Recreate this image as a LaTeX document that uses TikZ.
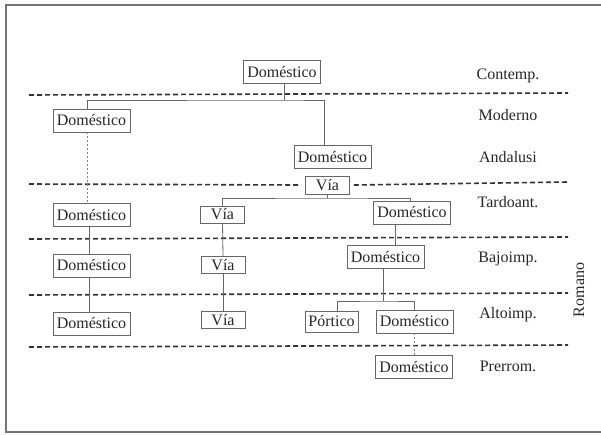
\documentclass[tikz,border=0pt]{standalone}
\usepackage{fontspec}
\setmainfont{Liberation Serif}
\begin{document}
\begin{tikzpicture}[x=1pt,y=-1pt,
  font=\fontsize{16}{18}\selectfont,
  txt/.style={text=black!85},
  box/.style={draw=black!60, line width=0.9pt, fill=white, inner sep=0pt, text=black!85},
  dom/.style={box, minimum width=77, minimum height=23},
  via/.style={box, minimum width=44, minimum height=17},
  port/.style={box, minimum width=53, minimum height=21},
  era/.style={dash pattern=on 5pt off 3pt, line width=1.6pt, draw=black!80},
  conn/.style={draw=black!60, line width=0.8pt},
  dconn/.style={draw=black!50, line width=0.7pt, dash pattern=on 2pt off 2pt}]
\useasboundingbox (0,0) rectangle (601,434);
% frame
\draw[black!55, line width=1.5pt] (610,5) -- (6,5) -- (6,432) -- (610,432);
% era lines
\draw[era] (29,95) -- (568,93);
\draw[era] (29,239) -- (568,237);
\draw[era] (29,295) -- (568,293);
\draw[era] (29,347) -- (568,345);
% nodes
\node[dom] (top) at (282,72) {Doméstico};
\node[dom] (modL) at (91.5,120.5) {Doméstico};
\node[dom] (and) at (332.5,157) {Doméstico};
\node[via, minimum height=18] (viaC) at (327.5,185) {Vía};
\draw[era] (29,184) -- ([xshift=-4pt]viaC.west);
\draw[era] ([xshift=4pt]viaC.east) -- (568,182);
\node[dom] (tarL) at (91.5,215) {Doméstico};
\node[via] (tarV) at (222.5,214.5) {Vía};
\node[dom] (tarR) at (412,212.5) {Doméstico};
\node[dom] (bajL) at (91.5,265.5) {Doméstico};
\node[via] (bajV) at (223,265) {Vía};
\node[dom] (bajR) at (385.5,257) {Doméstico};
\node[dom] (altL) at (91.5,323.5) {Doméstico};
\node[via] (altV) at (223,320) {Vía};
\node[port] (altP) at (331.5,321.5) {Pórtico};
\node[dom] (altR) at (414.5,321.5) {Doméstico};
\node[dom] (pre) at (414,367) {Doméstico};
% labels
\node[txt] (l1) at (508,76) {Contemp.};
\node[txt] (l2) at (508,115) {Moderno};
\node[txt] (l3) at (508,157) {Andalusi};
\node[txt] (l4) at (508,202) {Tardoant.};
\node[txt] (l5) at (508,259) {Bajoimp.};
\node[txt] (l6) at (508,315) {Altoimp.};
\node[txt] (l7) at (508,366) {Prerrom.};
\node[txt, rotate=90] (rom) at (579,290) {Romano};
% connectors
\coordinate (b1) at (284,100);
\draw[conn] ([xshift=2pt]top.south) -- (b1);
\draw[conn] ([xshift=-4.5pt]modL.north) |- (b1) -| ([xshift=-8.5pt]and.north);
\coordinate (b2) at (327.5,198);
\draw[conn] (viaC.south) -- (b2);
\draw[conn] (tarV.north) |- (b2) -| ([xshift=-2pt]tarR.north);
\draw[dconn] ([xshift=-4.5pt]modL.south) -- ([xshift=-4.5pt]tarL.north);
\draw[conn] ([xshift=-2.5pt]tarL.south) -- ([xshift=-2.5pt]bajL.north);
\draw[conn] ([xshift=-2.5pt]bajL.south) -- ([xshift=-2.5pt]altL.north);
\draw[conn] (tarV.south) -- (bajV.north);
\draw[conn] (bajV.south) -- (altV.north);
\draw[conn] ([xshift=-17pt]tarR.south) -- ([xshift=9.5pt]bajR.north);
\coordinate (b3) at (383,301);
\draw[conn] ([xshift=-2.5pt]bajR.south) -- (b3);
\draw[conn] ([xshift=5.5pt]altP.north) |- (b3) -| ([xshift=-0.5pt]altR.north);
\draw[dconn] ([xshift=-0.5pt]altR.south) -- (pre.north);
\end{tikzpicture}
\end{document}
